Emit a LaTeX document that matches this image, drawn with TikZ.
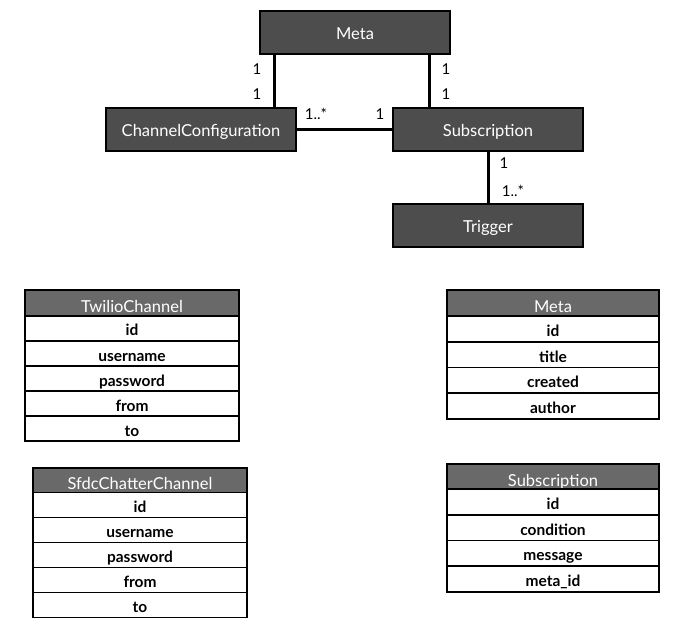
\documentclass[tikz,border=0pt]{standalone}
\usepackage{fontspec}
\setmainfont{Lato}
\usetikzlibrary{positioning}
\definecolor{boxgray}{HTML}{4D4D4D}
\definecolor{headgray}{HTML}{696969}
\tikzset{
  x=1pt, y=-1pt,
  topbox/.style={draw=black, line width=2pt, fill=boxgray, text=white,
    minimum width=190pt, minimum height=43pt, inner sep=0pt, outer sep=0pt,
    font=\fontsize{16.5}{19}\selectfont, text height=14pt, text depth=0pt},
  conn/.style={line width=3pt, black},
  mult/.style={inner sep=0pt, font=\fontsize{15}{17}\selectfont},
  thead/.style={draw=black, line width=1.6pt, fill=headgray, text=white,
    inner sep=0pt, outer sep=0pt, font=\fontsize{16.5}{19}\selectfont,
    text height=19pt, text depth=0pt},
  trow/.style={draw=black, line width=1.6pt, fill=white, text=black,
    inner sep=0pt, outer sep=0pt, font=\fontsize{15.5}{18}\selectfont\bfseries,
    text height=15pt, text depth=0pt},
}
\begin{document}
\begin{tikzpicture}
\useasboundingbox (0,0) rectangle (694,631);
% ER diagram
\node[topbox] (meta) at (355,33) {Meta};
\node[topbox] (cc) at (201,129.5) {ChannelConfiguration};
\node[topbox] (sub) at (488,129.5) {Subscription};
\node[topbox] (trig) at (488,225.5) {Trigger};
\draw[conn] ([xshift=14pt]meta.south west) -- ([xshift=14pt]meta.south west |- cc.north);
\draw[conn] ([xshift=-21pt]meta.south east) -- ([xshift=-21pt]meta.south east |- sub.north);
\draw[conn] (cc.east) -- (sub.west);
\draw[conn] (sub.south) -- (trig.north);
\node[mult] (m1) at (257,69) {1};
\node[mult] (m2) at (257,94) {1};
\node[mult] (m3) at (446,69) {1};
\node[mult] (m4) at (446,94) {1};
\node[mult] (m5) at (316,114) {1..*};
\node[mult] (m6) at (380,114) {1};
\node[mult] (m7) at (504,163) {1};
\node[mult] (m8) at (513,191) {1..*};
% TwilioChannel
\begin{scope}[every node/.append style={minimum width=214pt}]
\node[thead, minimum height=26pt] (tw) at (132,303) {TwilioChannel};
\node[trow, minimum height=25pt, below=0pt of tw] (tw1) {id};
\node[trow, minimum height=25pt, below=0pt of tw1] (tw2) {username};
\node[trow, minimum height=25pt, below=0pt of tw2] (tw3) {password};
\node[trow, minimum height=25pt, below=0pt of tw3] (tw4) {from};
\node[trow, minimum height=25pt, below=0pt of tw4] (tw5) {to};
% SfdcChatterChannel
\node[thead, minimum height=24.5pt] (sf) at (140,480.25) {SfdcChatterChannel};
\node[trow, minimum height=25pt, below=0pt of sf] (sf1) {id};
\node[trow, minimum height=25pt, below=0pt of sf1] (sf2) {username};
\node[trow, minimum height=25pt, below=0pt of sf2] (sf3) {password};
\node[trow, minimum height=25pt, below=0pt of sf3] (sf4) {from};
\node[trow, minimum height=25pt, below=0pt of sf4] (sf5) {to};
\end{scope}
\begin{scope}[every node/.append style={minimum width=212pt}]
% Meta table
\node[thead, minimum height=26pt] (mt) at (553,303) {Meta};
\node[trow, minimum height=25.75pt, below=0pt of mt] (mt1) {id};
\node[trow, minimum height=25.75pt, below=0pt of mt1] (mt2) {title};
\node[trow, minimum height=25.75pt, below=0pt of mt2] (mt3) {created};
\node[trow, minimum height=25.75pt, below=0pt of mt3] (mt4) {author};
% Subscription table
\node[thead, minimum height=25pt] (st) at (553,476.5) {Subscription};
\node[trow, minimum height=25.75pt, below=0pt of st] (st1) {id};
\node[trow, minimum height=25.75pt, below=0pt of st1] (st2) {condition};
\node[trow, minimum height=25.75pt, below=0pt of st2] (st3) {message};
\node[trow, minimum height=25.75pt, below=0pt of st3] (st4) {meta\_id};
\end{scope}
\end{tikzpicture}
\end{document}
